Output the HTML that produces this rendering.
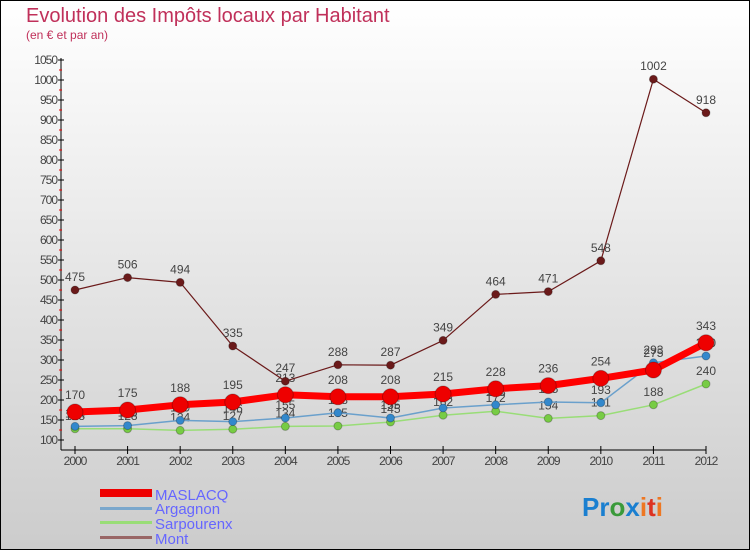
<!DOCTYPE html>
<html><head><meta charset="utf-8"><style>
body{margin:0;width:750px;height:550px;overflow:hidden}
svg{display:block;font-family:"Liberation Sans",sans-serif}
</style></head><body>
<svg id="c" width="750" height="550">
<defs><linearGradient id="bg" x1="0" y1="0" x2="0" y2="1"><stop offset="0" stop-color="#ffffff"/><stop offset="1" stop-color="#cccccc"/></linearGradient></defs>
<rect x="0.5" y="0.5" width="749" height="549" fill="url(#bg)" stroke="#000"/>
<text x="26" y="22" font-size="20" fill="#c0305a">Evolution des Impôts locaux par Habitant</text>
<text x="26" y="39" font-size="12" fill="#c0305a">(en € et par an)</text>
<g id="axes"></g><g id="series"></g>
<g>
<rect x="100" y="489" width="52" height="8" fill="#e00"/>
<text x="155" y="500" font-size="15" fill="#6666ff">MASLACQ</text>
<rect x="100" y="507" width="52" height="3" fill="#7aa7cc"/>
<text x="155" y="514" font-size="15" fill="#6666ff">Argagnon</text>
<rect x="100" y="521" width="52" height="3" fill="#99dd77"/>
<text x="155" y="529" font-size="15" fill="#6666ff">Sarpourenx</text>
<rect x="100" y="536" width="52" height="3" fill="#996666"/>
<text x="155" y="544" font-size="15" fill="#6666ff">Mont</text>
</g>
<text x="582" y="516" font-size="26" font-weight="bold"><tspan fill="#1a7fd0">Pr</tspan><tspan fill="#3a9a3a">o</tspan><tspan fill="#1a7fd0">x</tspan><tspan fill="#ee7722">i</tspan><tspan fill="#dd3322">t</tspan><tspan fill="#ee7722">i</tspan></text>
</svg>
<script>
const years=["2000","2001","2002","2003","2004","2005","2006","2007","2008","2009","2010","2011","2012"];
const maslacq=[170,175,188,195,213,208,208,215,228,236,254,275,343];
const argagnon=[134,136,149,146,155,168,155,180,188,195,193,293,310];
const sarpourenx=[128,128,124,127,134,135,145,162,172,154,161,188,240];
const mont=[475,506,494,335,247,288,287,349,464,471,548,1002,918];
const yTicks=[100,150,200,250,300,350,400,450,500,550,600,650,700,750,800,850,900,950,1000,1050];
const NS="http://www.w3.org/2000/svg";
const X=i=>75+i*(631/12);
const Y=v=>440-(v-100)*0.4;
function mk(tag,attrs,parent){const e=document.createElementNS(NS,tag);for(const k in attrs)e.setAttribute(k,attrs[k]);parent.appendChild(e);return e;}
const ax=document.getElementById('axes');
let l=mk('line',{x1:61,y1:58,x2:61,y2:450,stroke:'#000'},ax);


l=mk('line',{x1:61,y1:450,x2:706,y2:450,stroke:'#000'},ax);


yTicks.forEach((v,i)=>{
  mk('line',{x1:58,x2:64,y1:Y(v),y2:Y(v),stroke:'#000'},ax);
  if(i<yTicks.length-1)mk('line',{x1:59,x2:62,y1:Y(v+25),y2:Y(v+25),stroke:'#e00'},ax);
  const t=mk('text',{x:57,y:Y(v)+4,'font-size':12,'text-anchor':'end',fill:'#444','letter-spacing':'-1'},ax);
  t.textContent=v;
  
  
});
years.forEach((y,i)=>{
  mk('line',{x1:X(i),x2:X(i),y1:446,y2:454,stroke:'#000'},ax);
  const t=mk('text',{x:X(i),y:465,'font-size':12,'text-anchor':'middle',fill:'#444','letter-spacing':'-1'},ax);
  t.textContent=y;
  
  
});
const sg=document.getElementById('series');
function draw(arr,name,color,w,r,dot,labels){
  const g=mk('g',{},sg);
  
  
  const p=mk('polyline',{points:arr.map((v,i)=>X(i)+','+Y(v)).join(' '),fill:'none',stroke:color,'stroke-width':w,'stroke-linejoin':'round'},g);
  
  
  arr.forEach((v,i)=>{
    const c=mk('circle',{cx:X(i),cy:Y(v),r:r,fill:dot,stroke:'rgba(0,0,0,0.25)'},g);
    
    
    if(labels){const t=mk('text',{x:X(i),y:Y(v)-9-(r>5?4:0),'font-size':12,'text-anchor':'middle',fill:'#444'},g);
    t.textContent=v;
    
    }
  });
}
draw(sarpourenx,'sarpourenx','#99dd77',1.5,4,'#77cc44',true);
draw(argagnon,'argagnon','#6aa0cc',1.5,4,'#3388cc',true);
draw(maslacq,'maslacq','#ff0000',7,8,'#ee0000',true);
draw(mont,'mont','#6b1a1a',1.2,4,'#6b1a1a',true);
</script>
</body></html>
